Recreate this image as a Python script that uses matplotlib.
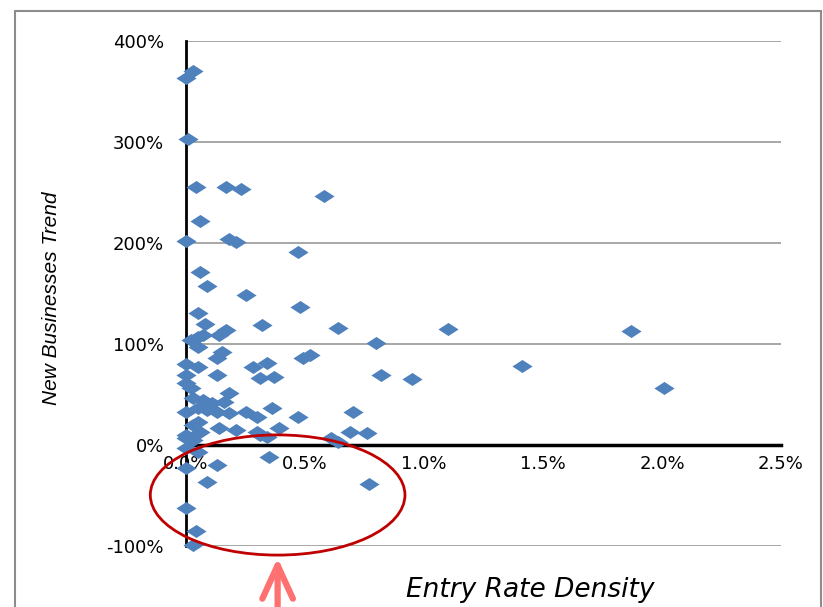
import matplotlib
matplotlib.use("Agg")
import matplotlib.pyplot as plt
from matplotlib.path import Path
from matplotlib.patches import Ellipse, Rectangle
from matplotlib.ticker import FuncFormatter, MultipleLocator

# entry rate density (%) and new businesses trend (%)
entry_rate = [0.00, 0.03, 0.01, 0.04, 0.17, 0.23, 0.58, 0.06, 0.00, 0.18, 0.21, 0.47,
              0.06, 0.09, 0.25, 0.05, 0.48, 0.08, 0.32, 0.64, 1.10, 1.87, 0.17, 0.14,
              0.02, 0.05, 0.07, 0.05, 0.15, 0.13, 0.49, 0.52, 0.00, 0.05, 0.28, 0.34,
              0.80, 0.82, 0.95, 1.41, 2.01,
              0.13, 0.31, 0.37, 0.00, 0.00, 0.02, 0.18, 0.03, 0.07, 0.11, 0.16, 0.00,
              0.05, 0.09, 0.13, 0.18, 0.25, 0.30, 0.36, 0.47, 0.70,
              0.05, 0.03, 0.06, 0.14, 0.21, 0.30, 0.39, 0.69, 0.76, 0.00, 0.00, 0.03,
              0.61, 0.64, 0.31, 0.34,
              0.05, 0.00, 0.35, 0.00, 0.13, 0.09, 0.00, 0.04, 0.03, 0.77]
trend = [363, 370, 303, 255, 255, 253, 247, 222, 202, 204, 201, 191,
         171, 157, 149, 131, 137, 120, 119, 116, 115, 113, 114, 109,
         104, 107, 109, 97, 92, 86, 86, 89, 80, 77, 77, 81,
         101, 69, 65, 78, 56,
         69, 66, 67, 69, 61, 56, 51, 47, 45, 42, 43, 33,
         37, 35, 33, 32, 33, 28, 37, 28, 33,
         23, 20, 13, 17, 15, 13, 17, 13, 12, 10, 7, 5,
         7, 3, 10, 8,
         -7, -3, -12, -23, -20, -37, -62, -85, -99, -39]

x_ticks = [0.0, 0.5, 1.0, 1.5, 2.0, 2.5]
y_ticks = [-100, 0, 100, 200, 300, 400]

# wide diamond like the Excel marker
diamond = Path([(-1, 0), (0, 0.65), (1, 0), (0, -0.65), (-1, 0)],
               [Path.MOVETO, Path.LINETO, Path.LINETO, Path.LINETO, Path.CLOSEPOLY])

fig = plt.figure(figsize=(8.23, 6.07), dpi=100)
ax = fig.add_axes([186 / 823, 61 / 607, 595 / 823, 505 / 607])

for y in y_ticks:
    if y != 0:
        ax.axhline(y, color='#a0a0a0', lw=1.3, zorder=1)

ax.plot(entry_rate, trend, linestyle='none', marker=diamond, markersize=14.5,
        color='#4f81bd', markeredgewidth=0, zorder=3, clip_on=False)

ax.set_xlim(0, 2.5)
ax.set_ylim(-100, 400)
ax.spines['top'].set_visible(False)
ax.spines['right'].set_visible(False)
ax.spines['left'].set_linewidth(2)
ax.spines['left'].set_color('black')
ax.spines['bottom'].set_position(('data', 0))
ax.spines['bottom'].set_linewidth(2.5)
ax.spines['bottom'].set_color('black')
ax.spines['bottom'].set_zorder(2)

ax.xaxis.set_major_locator(MultipleLocator(0.5))
ax.yaxis.set_major_locator(MultipleLocator(100))
ax.xaxis.set_major_formatter(FuncFormatter(lambda v, p: f"{v:.1f}%"))
ax.yaxis.set_major_formatter(FuncFormatter(lambda v, p: f"{v:.0f}%"))
ax.tick_params(axis='x', length=0, pad=7, labelsize=13)
ax.tick_params(axis='y', length=0, pad=16, labelsize=13)

# red ellipse and arrow
ax.add_patch(Ellipse((0.385, -49.5), 1.07, 119, fill=False, edgecolor='#c00000',
                     lw=2, clip_on=False, zorder=4))
ax.annotate('', xy=(0.385, -109), xytext=(0.385, -175),
            arrowprops=dict(arrowstyle='->,head_length=1.2,head_width=0.55',
                            color='#ff7070', lw=4.5, mutation_scale=20),
            annotation_clip=False)

fig.text(52 / 823, (607 - 298) / 607, 'New Businesses Trend', rotation=90,
         ha='center', va='center', fontsize=15, style='italic',
         family=['Liberation Sans', 'DejaVu Sans'])
fig.text(530 / 823, (607 - 590) / 607, 'Entry Rate Density', ha='center',
         va='center', fontsize=19, style='italic')

# chart frame
fig.patches.append(Rectangle((15 / 823, -0.05), 806 / 823, 1.05 - 11 / 607,
                             transform=fig.transFigure, fill=False,
                             edgecolor='#8c8c8c', lw=1.5))

fig.savefig('out.png', dpi=100)
